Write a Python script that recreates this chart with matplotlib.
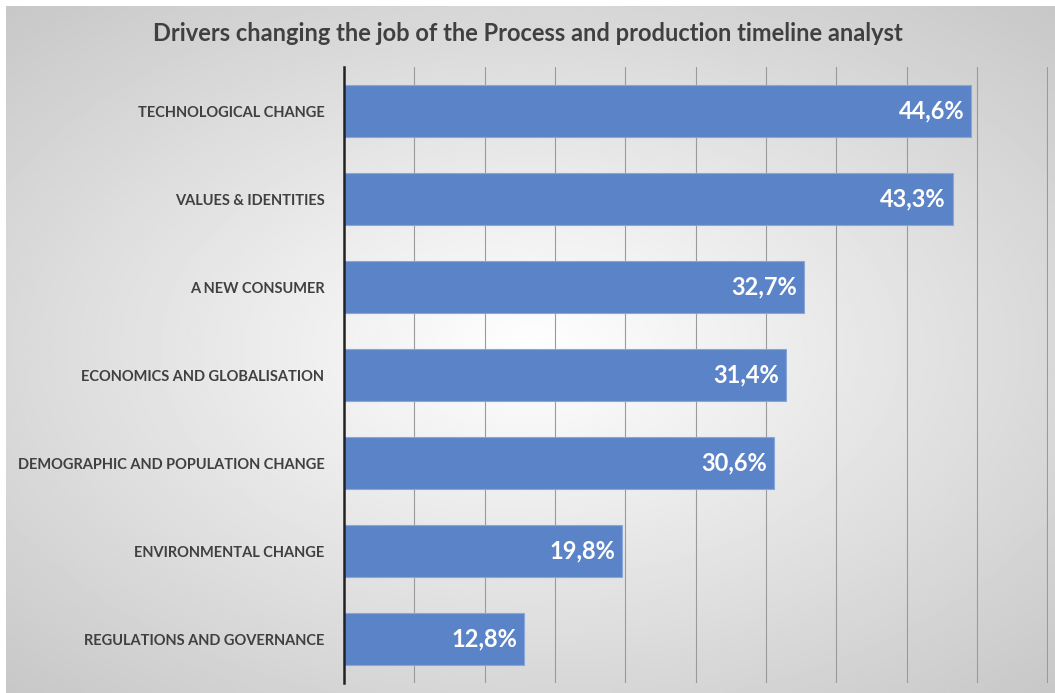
import matplotlib.pyplot as plt
import numpy as np

# Daten
kategorien = ["TECHNOLOGICAL CHANGE", "VALUES & IDENTITIES", "A NEW CONSUMER",
              "ECONOMICS AND GLOBALISATION", "DEMOGRAPHIC AND POPULATION CHANGE",
              "ENVIRONMENTAL CHANGE", "REGULATIONS AND GOVERNANCE"]
werte = [44.6, 43.3, 32.7, 31.4, 30.6, 19.8, 12.8]
titel = "Drivers changing the job of the Process and production timeline analyst"

plt.rcParams['font.family'] = ['Lato', 'DejaVu Sans']

fig = plt.figure(figsize=(10.55, 6.93), dpi=100, facecolor='white')

# --- Hintergrund: radialer Verlauf (weiss -> grau), schmaler weisser Rand oben/links ---
bg = fig.add_axes([6 / 1055, 0, 1 - 6 / 1055, 1 - 6 / 693], zorder=-10)
yy, xx = np.mgrid[-1:1:300j, -1:1:450j]
r = np.sqrt((xx * 0.85) ** 2 + (yy * 0.9) ** 2)
grau = 1.0 - 0.22 * np.clip(r, 0, 1.25) / 1.25
bg.imshow(grau, cmap='gray', vmin=0, vmax=1, aspect='auto', extent=[0, 1, 0, 1])
bg.axis('off')

ax = fig.add_axes([0.326, 0.0144, 0.6674, 0.8889])
ax.patch.set_alpha(0)

y = np.arange(len(kategorien))
ax.barh(y, werte, height=0.6, color='#5b84c8', edgecolor='#86a6dc', linewidth=0.8, zorder=3)

for yi, v in zip(y, werte):
    ax.text(v - 0.5, yi, f"{v:.1f}%".replace('.', ','), ha='right', va='center',
            color='white', fontsize=17, fontweight='bold', zorder=4)

ax.set_xlim(0, 50.05)
ax.set_ylim(len(kategorien) - 0.5, -0.5)
ax.set_xticks(np.arange(5, 51, 5))
ax.xaxis.grid(True, color='#9a9a9a', linewidth=0.8, zorder=0)
ax.tick_params(axis='x', length=0, labelbottom=False)
ax.tick_params(axis='y', length=0, pad=14)
ax.set_yticks(y)
ax.set_yticklabels(kategorien, fontsize=10.5, fontweight='bold', color='#404040')

for s in ['top', 'right', 'bottom']:
    ax.spines[s].set_visible(False)
ax.spines['left'].set_color('#222222')
ax.spines['left'].set_linewidth(1.8)
ax.spines['left'].set_zorder(5)

fig.text(0.5, 0.951, titel, ha='center', va='center', fontsize=17,
         fontweight='bold', color='#404040')

fig.savefig('out.png', dpi=100)
